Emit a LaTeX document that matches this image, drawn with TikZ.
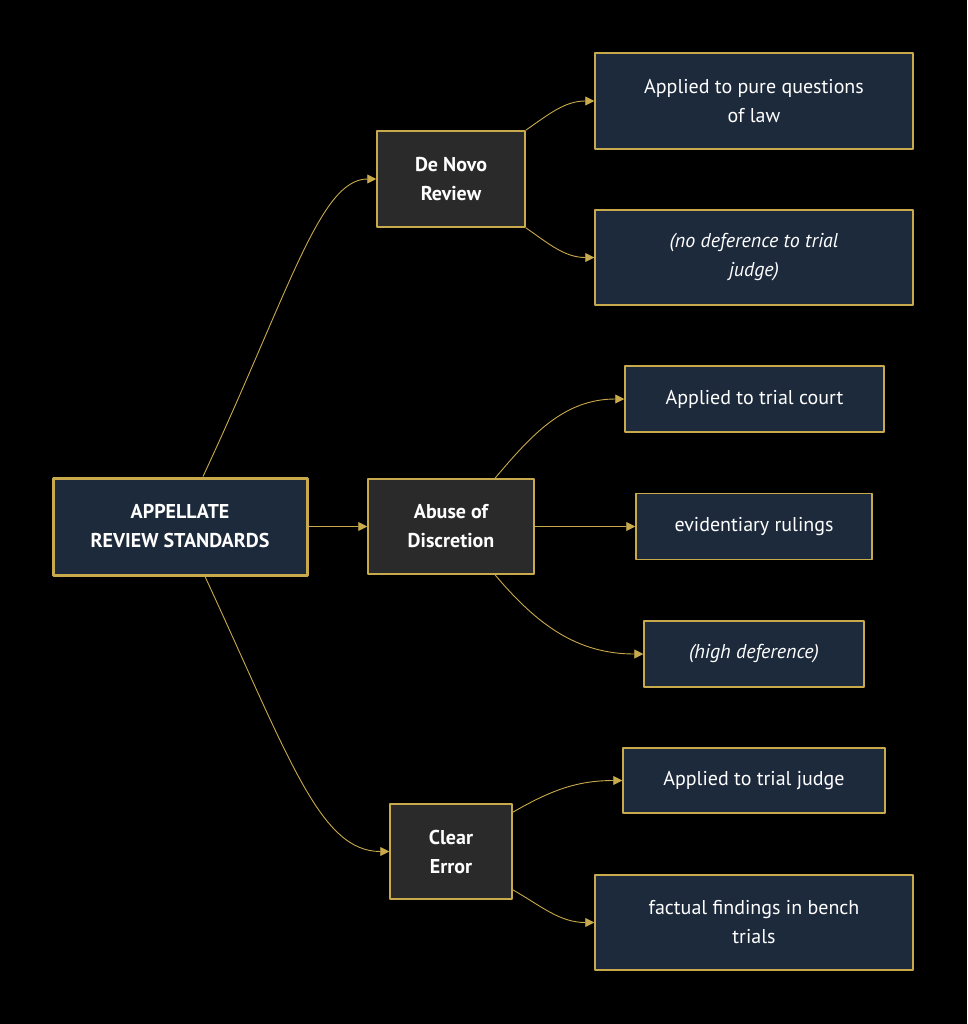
\documentclass[tikz,border=0pt]{standalone}
\usepackage{fontspec}
\setmainfont{PT Sans}
\usetikzlibrary{arrows.meta}
\definecolor{gold}{HTML}{C8A94C}
\definecolor{navy}{HTML}{1D2A3C}
\definecolor{coal}{HTML}{2A2A2A}
\begin{document}
\begin{tikzpicture}[x=1pt, y=-1pt, font=\fontsize{20}{29}\selectfont, line join=round, >={Triangle[length=9pt,width=9pt]},
	box/.style={draw=gold, line width=1.5pt, text=white, align=center, inner sep=0pt},
	leaf/.style={box, fill=navy},
	mid/.style={box, fill=coal, font=\fontsize{20}{29}\selectfont\bfseries},
	link/.style={->, draw=gold, line width=0.9pt}]
	\fill[black] (0,0) rectangle (967,1024);
	\useasboundingbox (0,0) rectangle (967,1024);
	% root and standards
	\node[leaf, line width=3pt, font=\fontsize{20}{29}\selectfont\bfseries, minimum width=254, minimum height=97] (root) at (180,526.5) {APPELLATE\\REVIEW STANDARDS};
	\node[mid, minimum width=148, minimum height=96] (denovo) at (451,179) {De Novo\\Review};
	\node[mid, minimum width=166, minimum height=95] (abuse) at (451,526.5) {Abuse of\\Discretion};
	\node[mid, minimum width=122, minimum height=95] (clear) at (451,851.5) {Clear\\Error};
	% leaves
	\node[leaf, minimum width=318, minimum height=96] (pure) at (754,101) {Applied to pure questions\\of law};
	\node[leaf, minimum width=318, minimum height=95, font=\fontsize{20}{29}\selectfont\itshape] (nodef) at (754,257.5) {(no deference to trial\\judge)};
	\node[leaf, minimum width=259, minimum height=66] (court) at (754.5,399) {Applied to trial court};
	\node[leaf, minimum width=236, minimum height=66] (evid) at (754,526.5) {evidentiary rulings};
	\node[leaf, minimum width=220, minimum height=66, font=\fontsize{20}{29}\selectfont\itshape] (high) at (754,654) {(high deference)};
	\node[leaf, minimum width=262, minimum height=65] (judge) at (754,780.5) {Applied to trial judge};
	\node[leaf, minimum width=318, minimum height=95] (fact) at (754,922.5) {factual findings in bench\\trials};
	% connectors
	\draw[link] ([xshift=23]root.north) .. controls (290,290) and (320,179) .. (denovo.west);
	\draw[link] (root.east) -- (abuse.west);
	\draw[link] ([xshift=25]root.south) .. controls (290,760) and (320,851.5) .. (clear.west);
	\draw[link] (denovo.north east) to[out=35, in=180] (pure.west);
	\draw[link] (denovo.south east) to[out=-35, in=180] (nodef.west);
	\draw[link] ([xshift=44]abuse.north) to[out=50, in=180] (court.west);
	\draw[link] (abuse.east) -- (evid.west);
	\draw[link] ([xshift=44]abuse.south) to[out=-50, in=180] (high.west);
	\draw[link] ([yshift=-9]clear.north east) to[out=30, in=180] (judge.west);
	\draw[link] ([yshift=10]clear.south east) to[out=-30, in=180] (fact.west);
\end{tikzpicture}
\end{document}
